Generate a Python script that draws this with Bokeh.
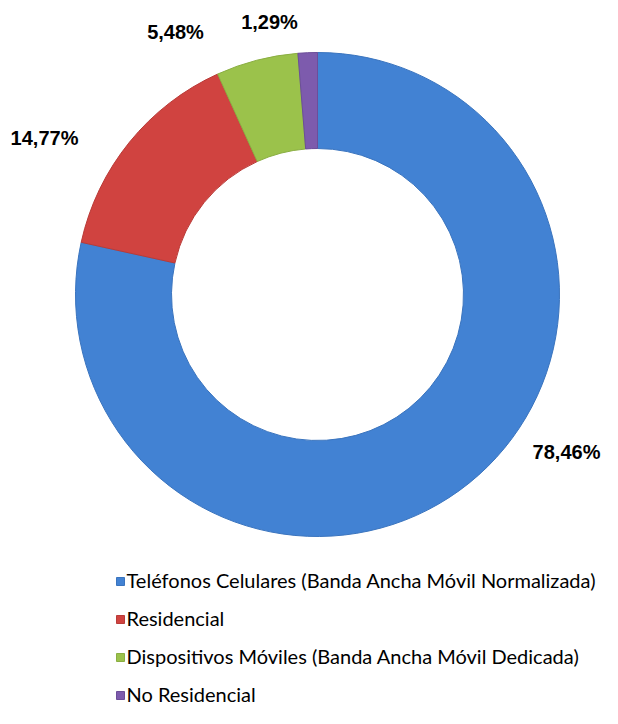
import math
from bokeh.plotting import figure
from bokeh.models import Range1d, ColumnDataSource
from bokeh.core.properties import value
from bokeh.embed import file_html
from bokeh.resources import INLINE

# ---- data ----
categories = [
    "Teléfonos Celulares (Banda Ancha Móvil Normalizada)",
    "Residencial",
    "Dispositivos Móviles (Banda Ancha Móvil Dedicada)",
    "No Residencial",
]
shares = [78.46, 14.77, 5.48, 1.29]
share_labels = ["78,46%", "14,77%", "5,48%", "1,29%"]
colors = ["#4282D3", "#D04340", "#9BC24B", "#7D5BAD"]
edge_colors = ["#3A74BE", "#B93B38", "#8AAE42", "#6C4E99"]

# ---- layout (picture pixel coordinates, y measured from top) ----
W, H = 602, 708
CX, CY = 317, 294
R_OUT, R_IN = 242, 146
label_pos = [(566, 451), (44, 137), (175, 31), (269, 21)]
legend_marker_x = 120
legend_text_x = 126
legend_rows = [579, 617, 655, 693]


def py(y):
    return H - y


total = sum(shares)
starts, ends = [], []
cum = 0.0
for s in shares:
    starts.append(math.pi / 2 - 2 * math.pi * cum / total)
    cum += s
    ends.append(math.pi / 2 - 2 * math.pi * cum / total)

src = ColumnDataSource(dict(
    start=starts, end=ends, color=colors, edge=edge_colors, cat=categories,
))

p = figure(width=W, height=H, output_backend="svg", toolbar_location=None,
           x_range=Range1d(0, W), y_range=Range1d(0, H),
           min_border=0, x_axis_location=None, y_axis_location=None,
           outline_line_color=None, background_fill_color="white")
p.grid.visible = False

p.annular_wedge(x=CX, y=py(CY), inner_radius=R_IN, outer_radius=R_OUT,
                start_angle="start", end_angle="end", direction="clock",
                fill_color="color", line_color="edge", line_width=1, source=src)

# data labels
p.text(x=[lp[0] for lp in label_pos], y=[py(lp[1]) for lp in label_pos],
       text=share_labels, text_align="center", text_baseline="middle",
       text_font=value("Liberation Sans"), text_font_style="bold",
       text_font_size="20px", text_color="black")

# legend
p.rect(x=[legend_marker_x] * 4, y=[py(r + 2) for r in legend_rows],
       width=8, height=8, fill_color=colors, line_color=edge_colors)
p.text(x=[legend_text_x] * 4, y=[py(r) for r in legend_rows],
       text=categories, text_align="left", text_baseline="middle",
       text_font=value("Lato"), text_font_size="20px", text_color="black")

open("out.html", "w").write(file_html(p, INLINE))
